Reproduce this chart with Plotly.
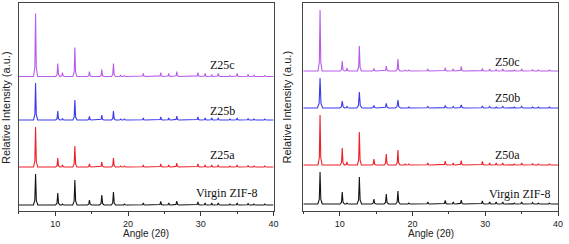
import plotly.graph_objects as go

# ---------------- data ----------------
peak_pos = [7.3, 10.35, 11.0, 12.7, 14.7, 16.4, 18.0, 19.0, 19.5, 22.1, 24.5,
            25.6, 26.7, 29.6, 30.6, 31.5, 32.4, 34.0, 35.0, 36.5, 37.3, 38.8]

# left panel (relative intensity, arbitrary units)
virgin_L = [31, 12, 1, 25, 5, 10, 13, 0.5, 1, 2, 3.5, 2, 4, 3, 2, 2, 2, 1, 2, 1.5, 1, 1]
z25a = [40, 9, 2, 21, 3, 5, 9, 1, 1, 2, 3, 2, 4, 3, 2, 2, 2, 1, 2, 1.5, 1, 1]
z25b = [37, 9, 1.5, 20, 3.5, 5, 9, 1, 1, 2, 3, 2, 4, 3, 2, 2, 2, 1, 2, 1.5, 1, 1]
z25c = [63, 13, 4, 29, 5, 7, 13, 1.5, 1, 3, 4, 3, 5, 4, 3, 2, 3, 1, 3, 2, 1.5, 1]

# right panel
virgin_R = [32, 12, 1, 27, 5, 10, 13, 0.5, 1, 2, 3.5, 2, 4, 3, 2, 2, 2, 1, 2, 1.5, 1, 1]
z50a = [50, 17, 3, 33, 6, 11, 15, 1, 1, 2, 4, 2, 4.5, 3.5, 2, 2, 2, 1, 2, 1.5, 1, 1]
z50b = [30, 7, 1.5, 16, 2.5, 4.5, 8, 0.5, 1, 1.5, 2.5, 1.5, 3, 2, 1.5, 1, 1.5, 1, 1.5, 1, 1, 1]
z50c = [61, 10, 3, 25, 2.5, 5, 12, 1, 1, 2, 3, 2, 4.5, 2.5, 2, 1.5, 2, 1, 2, 1.5, 1, 1]

offsets_L = [6, 44, 91, 134.5]
offsets_R = [7, 46, 103, 140]
names_L = ["Virgin ZIF-8", "Z25a", "Z25b", "Z25c"]
names_R = ["Virgin ZIF-8", "Z50a", "Z50b", "Z50c"]
label_pos_L = [(33.6, 18), (33.0, 56), (33.0, 100), (33.0, 146)]
label_pos_R = [(34.7, 17), (33.1, 56), (33.1, 113), (33.1, 149)]

colors = ["#151515", "#EE2028", "#3A3AEE", "#B95CEB"]
x_range = [5, 40]
x_ticks = [10, 20, 30, 40]


def profile(heights, base, hw):
    xs, ys = [x_range[0]], [base]
    for p, h in zip(peak_pos, heights):
        xs += [p - hw, p - hw * 0.35, p, p + hw * 0.35, p + hw]
        ys += [base, base + 0.15 * h, base + h, base + 0.15 * h, base]
    xs.append(x_range[1])
    ys.append(base)
    return xs, ys


fig = go.Figure()

panels = [
    ("x", "y", [virgin_L, z25a, z25b, z25c], offsets_L, names_L, label_pos_L, [0.3, 0.28, 0.28, 0.28]),
    ("x2", "y2", [virgin_R, z50a, z50b, z50c], offsets_R, names_R, label_pos_R, [0.3, 0.28, 0.36, 0.28]),
]

annotations = []
for xa, ya, series, offs, names, lpos, widths in panels:
    for s, b, c, nm, (lx, ly), hw in zip(series, offs, colors, names, lpos, widths):
        xs, ys = profile(s, b, hw)
        fig.add_trace(go.Scatter(x=xs, y=ys, mode="lines", xaxis=xa, yaxis=ya,
                                 line=dict(color=c, width=1.1), hoverinfo="skip",
                                 showlegend=False))
        annotations.append(dict(x=lx, y=ly, xref=xa, yref=ya, text=nm, showarrow=False,
                                font=dict(family="Liberation Serif", size=12, color="#111"),
                                xanchor="center", yanchor="middle"))

W, H = 569, 244
dom_L = [19 / W, 276 / W]
dom_R = [306 / W, 563 / W]
dom_Y = [1 - 211 / H, 1 - 3 / H]

axis_common = dict(range=x_range, tickvals=x_ticks, ticks="outside", ticklen=4, tickwidth=1,
                   tickcolor="#333", showline=True, linecolor="#444", linewidth=1, mirror=True,
                   showgrid=False, zeroline=False,
                   tickfont=dict(family="Liberation Sans", size=9, color="#222"),
                   minor=dict(ticks="outside", ticklen=2, tick0=5, dtick=5, tickcolor="#333",
                              showgrid=False))
yaxis_common = dict(range=[0, 208], showticklabels=False, ticks="", showline=True,
                    linecolor="#444", linewidth=1, mirror=True, showgrid=False, zeroline=False)

fig.update_layout(
    width=W, height=H, autosize=False,
    margin=dict(l=0, r=0, t=0, b=0),
    paper_bgcolor="white", plot_bgcolor="white",
    xaxis=dict(domain=dom_L, anchor="y", **axis_common),
    yaxis=dict(domain=dom_Y, anchor="x", **yaxis_common),
    xaxis2=dict(domain=dom_R, anchor="y2", **axis_common),
    yaxis2=dict(domain=dom_Y, anchor="x2", **yaxis_common),
)

title_font = dict(family="Liberation Sans", size=10, color="#222")
for cx in [(19 + 276) / 2, (306 + 563) / 2]:
    annotations.append(dict(x=cx / W, y=1 - 233 / H, xref="paper", yref="paper",
                            text="Angle (2θ)", showarrow=False, font=title_font,
                            xanchor="center", yanchor="middle"))
for cx in [6, 290]:
    annotations.append(dict(x=cx / W, y=1 - 107 / H, xref="paper", yref="paper",
                            text="Relative Intensity (a.u.)", showarrow=False, textangle=-90,
                            font=dict(family="Liberation Sans", size=11, color="#222"),
                            xanchor="center", yanchor="middle"))

fig.update_layout(annotations=annotations)
fig.write_html("out.html", config={"displayModeBar": False, "staticPlot": True},
               post_script="document.body.style.margin='0px';document.body.style.overflow='hidden';")
